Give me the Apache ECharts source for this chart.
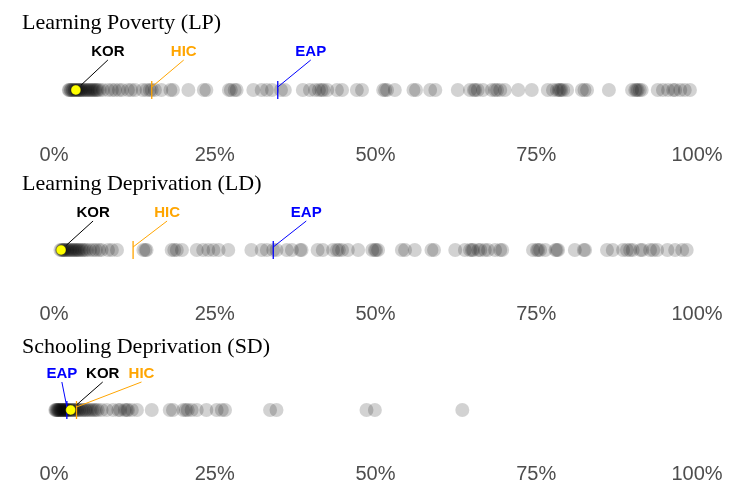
<!DOCTYPE html>
<html>
<head>
<meta charset="utf-8">
<script src="https://cdn.jsdelivr.net/npm/echarts@6/dist/echarts.min.js"></script>
<style>
  html, body { margin: 0; padding: 0; background: #fff; }
  #chart { width: 737px; height: 484px; }
</style>
</head>
<body>
<div id="chart"></div>
<script>
'use strict';

// panel titles
const panelTitles = ['Learning Poverty (LP)', 'Learning Deprivation (LD)', 'Schooling Deprivation (SD)'];

// country values (%)
const lpValues = [
    2.3, 2.4, 2.6, 2.7, 2.9, 3.0, 3.2, 3.3, 3.5, 3.6, 3.8, 3.9, 4.1, 4.2,
    4.4, 4.6, 4.8, 5.0, 5.2, 5.4, 5.6, 5.8, 6.0, 6.2, 6.4, 6.6, 6.8, 7.1,
    7.6, 8.4, 9.0, 9.5, 10.1, 10.6, 11.5, 12.0, 12.6, 13.8, 14.4, 14.9, 15.2,
    15.7, 16.7, 18.1, 18.5, 20.9, 23.3, 23.7, 27.2, 27.5, 28.1, 28.4,
    31.0, 32.3, 33.1, 33.9, 35.3, 35.9, 38.7, 39.8, 40.6, 41.2, 41.6, 41.9,
    42.5, 44.0, 44.8, 47.1, 47.9, 51.2, 51.5, 51.8, 53.0, 55.9, 56.3, 58.5,
    59.3, 62.8, 64.7, 65.3, 65.5, 65.9, 66.7, 68.1, 68.6, 68.9, 69.4, 70.1,
    72.2, 74.3, 76.8, 77.6, 78.2, 78.5, 78.7, 78.9, 79.2, 79.8, 82.1, 82.5,
    82.9, 86.3, 89.9, 90.4, 90.6, 90.8, 91.1, 91.4, 93.9, 94.7, 95.5, 96.3,
    96.6, 97.4, 98.1, 98.9
];
const ldValues = [
    1.0, 1.2, 1.3, 1.5, 1.6, 1.8, 2.0, 2.2, 2.4, 2.6, 2.8, 3.0, 3.2, 3.4,
    3.6, 3.8, 4.0, 4.3, 4.5, 4.8, 5.1, 5.6, 6.1, 6.5, 7.0, 7.4, 8.4, 9.0, 9.8,
    13.9, 14.2, 14.4, 18.3, 18.7, 19.1, 19.9, 22.2, 23.2, 24.0, 24.8, 25.6,
    27.1, 30.7, 32.3, 33.1, 34.1, 34.6, 36.2, 37.0, 38.3, 38.5, 41.0, 41.8,
    43.4, 44.0, 44.3, 44.8, 45.7, 47.3, 49.5, 49.9, 50.1, 50.4, 54.1, 54.6,
    56.1, 58.7, 59.1, 62.4, 63.9, 64.7, 65.0, 65.2, 66.0, 66.3, 67.0, 67.5,
    68.6, 69.4, 69.7, 74.5, 75.1, 75.3, 75.6, 76.4, 78.0, 78.2, 78.4, 81.0,
    82.4, 82.6, 86.0, 86.9, 88.5, 89.1, 89.6, 90.0, 91.2, 91.5, 92.7, 93.2,
    93.8, 95.4, 96.6, 97.7, 98.4
];
const sdValues = [
    0.2, 0.3, 0.4, 0.5, 0.6, 0.7, 0.8, 0.9, 1.0, 1.1, 1.2, 1.3, 1.4, 1.5,
    1.6, 1.7, 1.8, 1.9, 2.0, 2.1, 2.2, 2.4, 2.5, 2.7, 2.9, 3.0, 3.2, 3.4,
    3.6, 3.8, 4.0, 4.3, 4.5, 4.8, 5.0, 5.3, 5.6, 5.9, 6.2, 6.5, 6.8, 7.4,
    8.2, 9.2, 10.0, 10.3, 11.0, 11.3, 11.5, 12.1, 12.9, 15.2, 18.0, 18.5,
    20.1, 20.5, 20.8, 21.4, 22.2, 23.7, 25.3, 26.1, 26.6, 33.6, 34.6,
    48.6, 49.9, 63.5
];
const countryValues = [lpValues, ldValues, sdValues];

// reference marks per panel: LP, LD, SD
const markerNames = ['KOR', 'HIC', 'EAP'];
const korValues = [3.4, 1.1, 2.6];
const hicValues = [15.2, 12.3, 3.5];
const eapValues = [34.8, 34.1, 2.0];
const markerValues = [korValues, hicValues, eapValues];

// x axis
const xMin = 0, xMax = 100, xStep = 25;

// ---- layout / style (not data) ----
const markerColors = { KOR: '#000000', HIC: '#FFA500', EAP: '#0000FF' };
const panelCenters = [90, 250, 410];
const titleTops = [7, 168, 331];
const labelMargins = [15, 14, 14];
// label centre offset from the mark, per panel
const labelOffsets = {
    KOR: [[32, -38], [32, -37], [32, -36]],
    HIC: [[32, -38], [34, -37], [65, -36]],
    EAP: [[33, -38], [33, -37], [-5, -36]]
};

let myChart = echarts.init(document.getElementById('chart'));

function markerSeries(panel) {
    let data = [];
    // lines first, then KOR on top
    [1, 2, 0].forEach(function (k) {
        data.push([markerValues[k][panel], 0.5, k]);
    });
    return {
        type: 'custom',
        xAxisIndex: panel,
        yAxisIndex: panel,
        clip: false,
        z: 5,
        silent: true,
        renderItem: function (params, api) {
            let k = api.value(2);
            let name = markerNames[k];
            let color = markerColors[name];
            let p = api.coord([api.value(0), api.value(1)]);
            let off = labelOffsets[name][panel];
            let lx = p[0] + off[0];
            let ly = p[1] + off[1];
            let children = [];
            let sx, sy;
            if (name === 'KOR') {
                // leader starts at the circle edge
                let dx = lx - p[0], dy = ly + 8 - p[1];
                let len = Math.sqrt(dx * dx + dy * dy);
                sx = p[0] + dx / len * 7;
                sy = p[1] + dy / len * 7;
            } else {
                sx = p[0];
                sy = p[1] - 3;
                children.push({
                    type: 'line',
                    shape: { x1: p[0], y1: p[1] - 9, x2: p[0], y2: p[1] + 9 },
                    style: { stroke: color, lineWidth: 1.3 }
                });
            }
            children.push({
                type: 'line',
                shape: { x1: sx, y1: sy, x2: lx, y2: ly + 8 },
                style: { stroke: color, lineWidth: 1 }
            });
            if (name === 'KOR') {
                children.push({
                    type: 'circle',
                    shape: { cx: p[0], cy: p[1], r: 5 },
                    style: { fill: '#FFFF00', stroke: 'rgba(0,0,0,0.6)', lineWidth: 0.6 }
                });
            }
            children.push({
                type: 'text',
                style: {
                    text: name, x: lx, y: ly,
                    align: 'center', verticalAlign: 'middle',
                    fill: color,
                    font: 'bold 15px "Liberation Sans", Arial, sans-serif'
                }
            });
            return { type: 'group', children: children };
        },
        data: data
    };
}

let grids = [], xAxes = [], yAxes = [], series = [], titles = [];
for (let i = 0; i < 3; i++) {
    grids.push({ left: 54, right: 40, top: panelCenters[i] - 40, height: 80 });
    xAxes.push({
        type: 'value',
        gridIndex: i,
        min: xMin, max: xMax, interval: xStep,
        axisLine: { show: false },
        axisTick: { show: false },
        splitLine: { show: false },
        axisLabel: {
            formatter: '{value}%',
            color: '#4D4D4D',
            fontSize: 20,
            fontFamily: '"Liberation Sans", Arial, sans-serif',
            margin: labelMargins[i]
        }
    });
    yAxes.push({ type: 'value', gridIndex: i, min: 0, max: 1, show: false });
    titles.push({
        text: panelTitles[i],
        left: 17, top: titleTops[i],
        textStyle: {
            fontFamily: '"Liberation Serif", "Times New Roman", serif',
            fontWeight: 'normal', fontSize: 22, color: '#000'
        }
    });
    series.push({
        type: 'scatter',
        xAxisIndex: i,
        yAxisIndex: i,
        symbolSize: 14,
        silent: true,
        itemStyle: { color: 'rgba(0,0,0,0.22)' },
        data: countryValues[i].map(function (v) { return [v, 0.5]; })
    });
    series.push(markerSeries(i));
}

myChart.setOption({
    animation: false,
    title: titles,
    grid: grids,
    xAxis: xAxes,
    yAxis: yAxes,
    series: series
});
</script>
</body>
</html>
